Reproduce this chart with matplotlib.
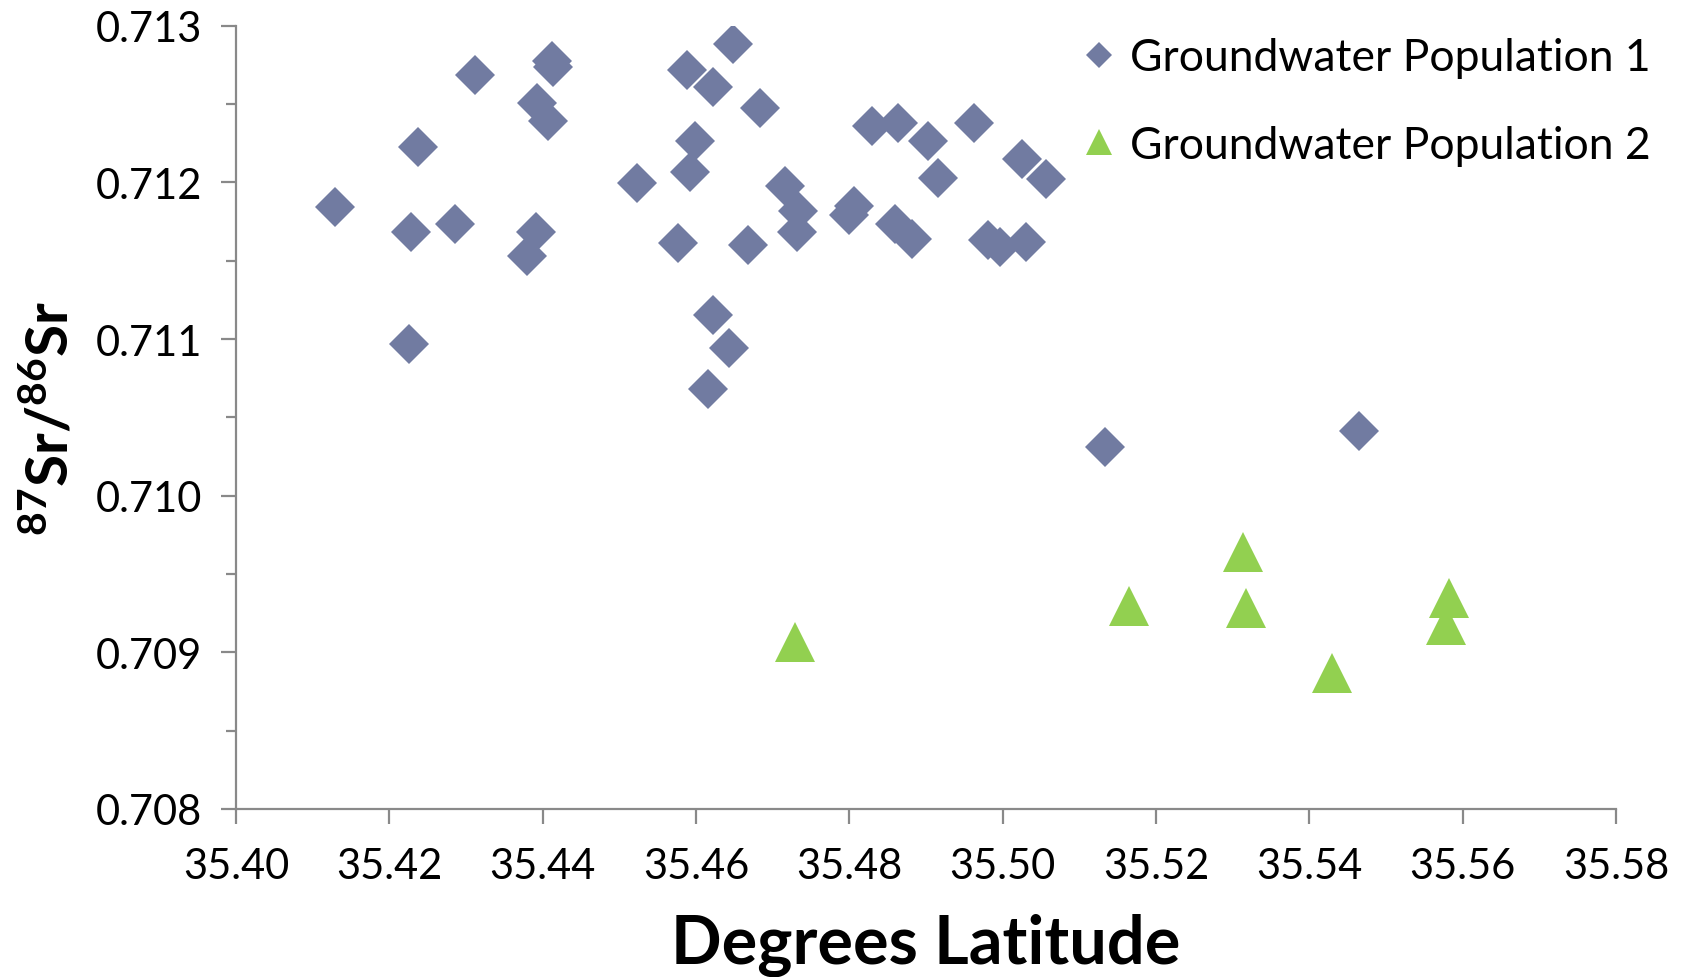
"""
Sr isotope ratio vs latitude scatter for two groundwater populations.
"""

import matplotlib
matplotlib.use('Agg')
import matplotlib.pyplot as plt
from matplotlib.ticker import MultipleLocator, FormatStrFormatter

# Groundwater Population 1 (diamonds)
pop1_lat = [
    35.4129, 35.4312, 35.4412, 35.4414, 35.4393, 35.4407, 35.4237, 35.4228,
    35.4286, 35.4391, 35.4380, 35.4226,
    35.4648, 35.4588, 35.4622, 35.4683, 35.4599, 35.4592, 35.4523, 35.4716,
    35.4733, 35.4732, 35.4577, 35.4668, 35.4806, 35.4800, 35.4830, 35.4864,
    35.4903, 35.4963, 35.4916, 35.5025, 35.5056, 35.4860, 35.4882, 35.4981,
    35.4996, 35.5031, 35.4622, 35.4643, 35.4616,
    35.5134, 35.5465,
]
pop1_sr = [
    0.711845, 0.712686, 0.712775, 0.712737, 0.712507, 0.712393, 0.712227, 0.711685,
    0.711736, 0.711685, 0.711532, 0.710965,
    0.712883, 0.712717, 0.712609, 0.712476, 0.712266, 0.712068, 0.711997, 0.711978,
    0.711819, 0.711685, 0.711615, 0.711602, 0.711850, 0.711792, 0.712361, 0.712380,
    0.712266, 0.712380, 0.712030, 0.712150, 0.712023, 0.711736, 0.711640, 0.711634,
    0.711589, 0.711621, 0.711156, 0.710945, 0.710678,
    0.710312, 0.710414,
]

# Groundwater Population 2 (triangles)
pop2_lat = [35.4729, 35.5165, 35.5314, 35.5317, 35.5430, 35.5582, 35.5578]
pop2_sr = [0.709066, 0.709295, 0.709639, 0.709282, 0.708870, 0.709345, 0.709174]

series_labels = ['Groundwater Population 1', 'Groundwater Population 2']

FONT = 'Lato'
plt.rcParams['font.family'] = [FONT, 'DejaVu Sans']
plt.rcParams['mathtext.fontset'] = 'custom'
plt.rcParams['mathtext.rm'] = FONT
plt.rcParams['mathtext.bf'] = FONT + ':bold'

fig = plt.figure(figsize=(16.9, 9.78), dpi=100)
ax = fig.add_axes([0.1396, 0.1718, 0.8166, 0.8009])

ax.plot(pop1_lat, pop1_sr, linestyle='none', marker='D', markersize=19.9,
        color='#717ba1', markeredgewidth=0, label=series_labels[0])
ax.plot(pop2_lat, pop2_sr, linestyle='none', marker='^', markersize=29,
        color='#92d050', markeredgewidth=0, label=series_labels[1])

ax.set_xlim(35.40, 35.58)
ax.set_ylim(0.708, 0.713)
ax.xaxis.set_major_locator(MultipleLocator(0.02))
ax.xaxis.set_major_formatter(FormatStrFormatter('%.2f'))
ax.yaxis.set_major_locator(MultipleLocator(0.001))
ax.yaxis.set_minor_locator(MultipleLocator(0.0005))
ax.yaxis.set_major_formatter(FormatStrFormatter('%.3f'))

for side in ['top', 'right']:
    ax.spines[side].set_visible(False)
for side in ['left', 'bottom']:
    ax.spines[side].set_color('#898989')
    ax.spines[side].set_linewidth(1.6)

ax.tick_params(axis='both', which='major', direction='out', length=10.5,
               width=1.6, color='#898989', labelsize=30, pad=14)
ax.tick_params(axis='x', which='major', pad=17)
ax.tick_params(axis='y', which='minor', direction='out', length=7,
               width=1.6, color='#898989')

ax.set_xlabel('Degrees Latitude', fontsize=48, fontweight='bold', labelpad=20)
ax.set_ylabel(r'$\mathbf{^{87}Sr/^{86}Sr}$', fontsize=42, labelpad=12)

ax.legend(loc='upper left', bbox_to_anchor=(0.603, 1.008), frameon=False,
          fontsize=32, markerscale=0.65, handlelength=0.6, handletextpad=0.4,
          labelspacing=1.05, borderaxespad=0)

fig.savefig('out.png', dpi=100)
